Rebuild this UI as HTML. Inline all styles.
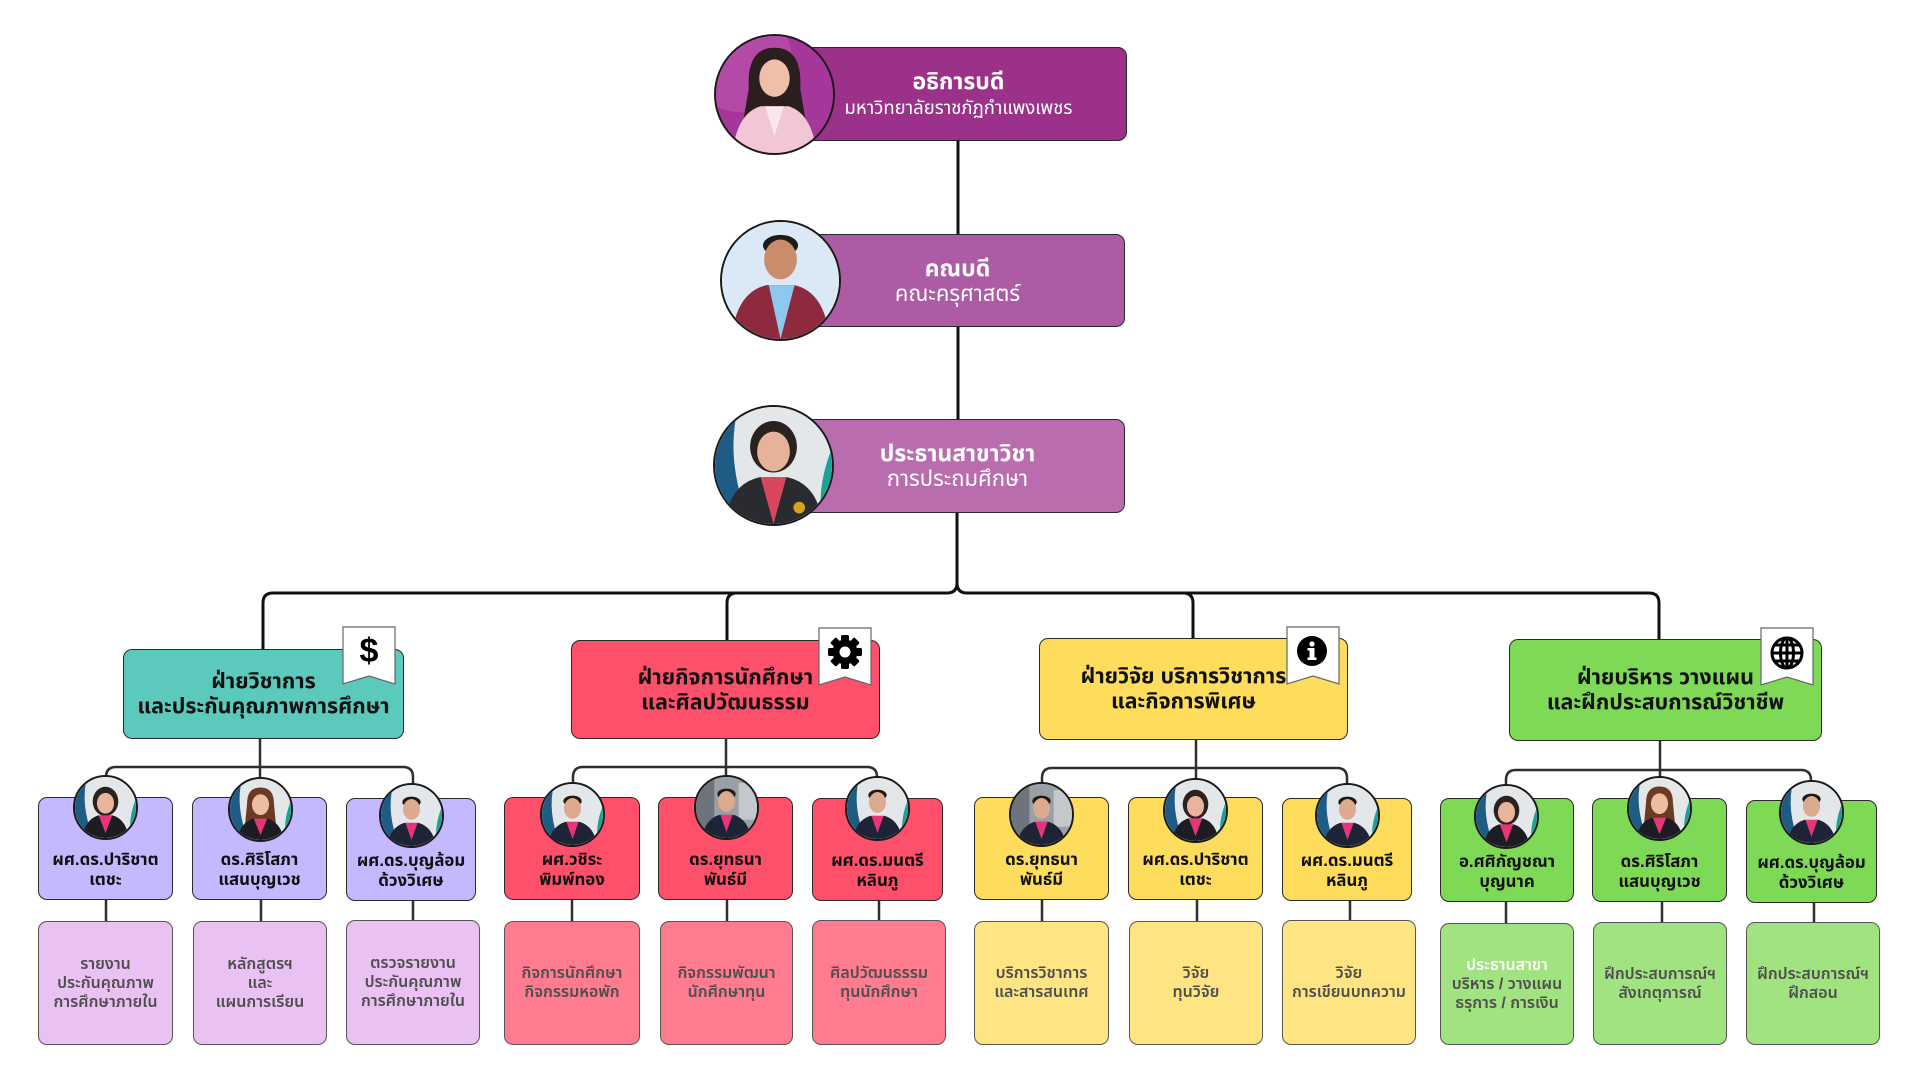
<!DOCTYPE html>
<html><head><meta charset="utf-8">
<style>
body{margin:0;width:1920px;height:1080px;background:#fff;position:relative;overflow:hidden;font-family:"Liberation Sans","Noto Sans Thai","Noto Sans Thai Looped","Garuda","Loma","Noto Sans CJK SC",sans-serif}
.b{position:absolute;box-sizing:border-box;border:1.5px solid #2a2a2a;border-radius:9px;display:flex;align-items:center;justify-content:center;text-align:center;z-index:1}
.top{color:#fff;line-height:25px;font-size:22px}
.top b{font-size:23px}
.hd{font-weight:700;font-size:21.5px;line-height:25px;color:#111}
.ch{align-items:flex-end;padding-bottom:9px;font-weight:700;font-size:16.8px;line-height:20px;color:#111}
.sb{font-weight:600;font-size:16px;line-height:19px;color:#4e4e4e;border-color:#555}
.av{position:absolute;box-sizing:border-box;border-radius:50%;overflow:hidden;border:2px solid #1a1a1a;z-index:2;background:#e4e7e9}
.av svg{display:block;width:100%;height:100%}
.bd{position:absolute;z-index:3}
svg.ln{position:absolute;left:0;top:0;z-index:0}
</style></head><body>

<svg width="0" height="0" style="position:absolute">
<defs>
<symbol id="bg" viewBox="0 0 100 100">
<rect width="100" height="100" fill="#e4e7e9"/>
<path d="M0 0 H20 Q8 45 30 100 H0Z" fill="#1f5c85"/>
<path d="M100 35 Q86 70 92 100 H100Z" fill="#1aa394"/>
</symbol>
<symbol id="bg2" viewBox="0 0 100 100">
<rect width="100" height="100" fill="#9aa0a6"/>
<rect x="0" y="0" width="30" height="100" fill="#6d747b"/>
<rect x="70" y="10" width="30" height="60" fill="#c4c8cc"/>
</symbol>
<symbol id="fem" viewBox="0 0 100 100">
<ellipse cx="50" cy="40" rx="21" ry="24" fill="#2b211e"/>
<ellipse cx="50" cy="43" rx="14" ry="17" fill="#e8b49c"/>
<path d="M12 100 Q16 70 38 63 H62 Q84 70 88 100Z" fill="#1c1c22"/>
<path d="M39 63 L50 92 L61 63Z" fill="#e8357a"/>
</symbol>
<symbol id="femL" viewBox="0 0 100 100">
<path d="M28 40 Q28 14 50 14 Q72 14 72 40 L76 82 L24 82Z" fill="#6b3a22"/>
<ellipse cx="50" cy="42" rx="14" ry="17" fill="#ecbca3"/>
<path d="M12 100 Q16 72 38 65 H62 Q84 72 88 100Z" fill="#1c1c22"/>
<path d="M39 65 L50 92 L61 65Z" fill="#e8357a"/>
</symbol>
<symbol id="mal" viewBox="0 0 100 100">
<ellipse cx="50" cy="28" rx="15" ry="9" fill="#1e1a18"/>
<ellipse cx="50" cy="40" rx="14" ry="17" fill="#dcaa8e"/>
<path d="M10 100 Q14 70 38 62 H62 Q86 70 90 100Z" fill="#1e2436"/>
<path d="M40 62 L50 90 L60 62Z" fill="#e8357a"/>
</symbol>
</defs>
</svg>

<!-- connectors -->
<svg class="ln" width="1920" height="1080">
<g fill="none" stroke="#111" stroke-width="3">
<path d="M958 141 V234"/>
<path d="M958 327 V419"/>
<path d="M957 512 V583 Q957 593 947 593 H273 Q263 593 263 603 V649"/>
<path d="M957 583 Q957 593 967 593 H1649 Q1659 593 1659 603 V639"/>
<path d="M727 640 V603 Q727 593 737 593"/>
<path d="M1193 638 V603 Q1193 593 1183 593"/>
</g>
<g fill="none" stroke="#2e2e2e" stroke-width="2.5">
<path d="M260 739 V777"/><path d="M106 790 V777 Q106 767 116 767 H403 Q413 767 413 777 V790"/>
<path d="M726 739 V777"/><path d="M573 790 V777 Q573 767 583 767 H867 Q877 767 877 777 V790"/>
<path d="M1196 740 V778"/><path d="M1042 790 V778 Q1042 768 1052 768 H1337 Q1347 768 1347 778 V790"/>
<path d="M1660 741 V780"/><path d="M1506 790 V780 Q1506 770 1516 770 H1801 Q1811 770 1811 780 V790"/>
<path d="M106 900 V922 M261 900 V922 M413 900 V922"/>
<path d="M572 900 V922 M727 900 V922 M879 900 V922"/>
<path d="M1042 900 V922 M1197 900 V922 M1350 900 V922"/>
<path d="M1506 902 V924 M1662 902 V924 M1814 902 V924"/>
</g>
</svg>

<!-- top boxes -->
<div class="b top" style="left:790px;top:47px;width:337px;height:94px;background:#9c3189"><div><b>อธิการบดี</b><br><span style="font-size:18.5px">มหาวิทยาลัยราชภัฏกำแพงเพชร</span></div></div>
<div class="b top" style="left:790px;top:234px;width:335px;height:93px;background:#ae5ba6"><div><b>คณบดี</b><br>คณะครุศาสตร์</div></div>
<div class="b top" style="left:790px;top:419px;width:335px;height:94px;background:#b96dae"><div><b>ประธานสาขาวิชา</b><br>การประถมศึกษา</div></div>

<!-- top avatars -->
<div class="av" style="left:714px;top:34px;width:121px;height:121px;background:#a2338f"><svg viewBox="0 0 100 100">
<rect width="100" height="100" fill="#a6379a"/><circle cx="20" cy="20" r="45" fill="#b24aa6"/>
<path d="M28 45 Q26 10 50 10 Q74 10 72 45 L78 80 L22 80Z" fill="#2a1e1e"/>
<ellipse cx="50" cy="36" rx="13" ry="16" fill="#eec0aa"/>
<path d="M14 100 Q18 66 38 60 H62 Q82 66 86 100Z" fill="#f3c6d6"/>
<path d="M42 60 L50 85 L58 60Z" fill="#f8e8ee"/>
</svg></div>
<div class="av" style="left:720px;top:220px;width:121px;height:121px"><svg viewBox="0 0 100 100">
<rect width="100" height="100" fill="#dbe9f6"/>
<ellipse cx="50" cy="20" rx="15" ry="9" fill="#1e1a18"/>
<ellipse cx="50" cy="32" rx="14" ry="17" fill="#c98d6c"/>
<path d="M8 100 Q12 60 38 54 H62 Q88 60 92 100Z" fill="#8d2a3e"/>
<path d="M40 54 L50 100 L62 54Z" fill="#8fc8ee"/>
</svg></div>
<div class="av" style="left:713px;top:405px;width:121px;height:121px"><svg viewBox="0 0 100 100">
<use href="#bg"/>
<ellipse cx="50" cy="34" rx="20" ry="22" fill="#2b211e"/>
<ellipse cx="50" cy="38" rx="14" ry="17" fill="#e6b39a"/>
<path d="M8 100 Q12 66 38 60 H62 Q88 66 92 100Z" fill="#2a2b30"/>
<path d="M39 60 L50 100 L61 60Z" fill="#d9475f"/>
<circle cx="72" cy="86" r="5" fill="#d8a21c"/>
</svg></div>

<!-- headers -->
<div class="b hd" style="left:123px;top:649px;width:281px;height:90px;background:#5bc9bc"><div>ฝ่ายวิชาการ<br>และประกันคุณภาพการศึกษา</div></div>
<div class="b hd" style="left:571px;top:640px;width:309px;height:99px;background:#fe4f6b"><div>ฝ่ายกิจการนักศึกษา<br>และศิลปวัฒนธรรม</div></div>
<div class="b hd" style="left:1039px;top:638px;width:309px;height:102px;background:#fedd5c;padding-right:20px"><div>ฝ่ายวิจัย บริการวิชาการ<br>และกิจการพิเศษ</div></div>
<div class="b hd" style="left:1509px;top:639px;width:313px;height:102px;background:#7ed957"><div>ฝ่ายบริหาร วางแผน<br>และฝึกประสบการณ์วิชาชีพ</div></div>

<!-- badges -->
<svg class="bd" style="left:342px;top:626px" width="54" height="60"><polygon points="1,1 53,1 53,58 27,50 1,58" fill="#fff" stroke="#666" stroke-width="1.2"/><text x="27" y="36" text-anchor="middle" font-family="Liberation Sans, sans-serif" font-size="34" font-weight="700" fill="#000">$</text></svg>
<svg class="bd" style="left:818px;top:627px" width="54" height="60"><polygon points="1,1 53,1 53,58 27,50 1,58" fill="#fff" stroke="#666" stroke-width="1.2"/>
<g transform="translate(27,25)" fill="#000"><rect x="-4" y="-17" width="8" height="34" rx="1.5"/><rect x="-4" y="-17" width="8" height="34" rx="1.5" transform="rotate(45)"/><rect x="-4" y="-17" width="8" height="34" rx="1.5" transform="rotate(90)"/><rect x="-4" y="-17" width="8" height="34" rx="1.5" transform="rotate(135)"/><circle r="12.5"/><circle r="5.5" fill="#fff"/></g></svg>
<svg class="bd" style="left:1286px;top:626px" width="54" height="60"><polygon points="1,1 53,1 53,58 27,50 1,58" fill="#fff" stroke="#666" stroke-width="1.2"/><circle cx="26" cy="25" r="15" fill="#000"/><circle cx="26" cy="18" r="2.6" fill="#fff"/><rect x="23.5" y="22" width="5" height="12" fill="#fff"/><rect x="21.5" y="22" width="4" height="2.5" fill="#fff"/><rect x="21.5" y="31.5" width="9" height="2.5" fill="#fff"/></svg>
<svg class="bd" style="left:1760px;top:627px" width="54" height="60"><polygon points="1,1 53,1 53,58 27,50 1,58" fill="#fff" stroke="#666" stroke-width="1.2"/>
<g fill="none" stroke="#000" stroke-width="3"><circle cx="27" cy="26" r="15"/><ellipse cx="27" cy="26" rx="6.5" ry="15"/><path d="M12 26 H42 M14.5 18 H39.5 M14.5 34 H39.5 M27 11 V41"/></g></svg>

<!-- child boxes -->
<div class="b ch" style="left:38px;top:797px;width:135px;height:103px;background:#c4b8fe"><div>ผศ.ดร.ปาริชาต<br>เตชะ</div></div>
<div class="b ch" style="left:192px;top:797px;width:135px;height:103px;background:#c4b8fe"><div>ดร.ศิริโสภา<br>แสนบุญเวช</div></div>
<div class="b ch" style="left:346px;top:798px;width:130px;height:103px;background:#c4b8fe"><div>ผศ.ดร.บุญล้อม<br>ด้วงวิเศษ</div></div>

<div class="b ch" style="left:504px;top:797px;width:136px;height:103px;background:#fe4f6b"><div>ผศ.วชิระ<br>พิมพ์ทอง</div></div>
<div class="b ch" style="left:658px;top:797px;width:135px;height:103px;background:#fe4f6b"><div>ดร.ยุทธนา<br>พันธ์มี</div></div>
<div class="b ch" style="left:812px;top:798px;width:131px;height:103px;background:#fe4f6b"><div>ผศ.ดร.มนตรี<br>หลินภู</div></div>

<div class="b ch" style="left:974px;top:797px;width:135px;height:103px;background:#fedd5c"><div>ดร.ยุทธนา<br>พันธ์มี</div></div>
<div class="b ch" style="left:1128px;top:797px;width:135px;height:103px;background:#fedd5c"><div>ผศ.ดร.ปาริชาต<br>เตชะ</div></div>
<div class="b ch" style="left:1282px;top:798px;width:130px;height:103px;background:#fedd5c"><div>ผศ.ดร.มนตรี<br>หลินภู</div></div>

<div class="b ch" style="left:1440px;top:798px;width:134px;height:104px;background:#7ed957"><div>อ.ศศิกัญชณา<br>บุญนาค</div></div>
<div class="b ch" style="left:1592px;top:798px;width:135px;height:104px;background:#7ed957"><div>ดร.ศิริโสภา<br>แสนบุญเวช</div></div>
<div class="b ch" style="left:1746px;top:800px;width:131px;height:103px;background:#7ed957"><div>ผศ.ดร.บุญล้อม<br>ด้วงวิเศษ</div></div>

<!-- sub boxes -->
<div class="b sb" style="left:38px;top:921px;width:135px;height:124px;background:#e9c1f3"><div>รายงาน<br>ประกันคุณภาพ<br>การศึกษาภายใน</div></div>
<div class="b sb" style="left:193px;top:921px;width:134px;height:124px;background:#e9c1f3"><div>หลักสูตรฯ<br>และ<br>แผนการเรียน</div></div>
<div class="b sb" style="left:346px;top:920px;width:134px;height:125px;background:#e9c1f3"><div>ตรวจรายงาน<br>ประกันคุณภาพ<br>การศึกษาภายใน</div></div>

<div class="b sb" style="left:504px;top:921px;width:136px;height:124px;background:#ff7b8f"><div>กิจการนักศึกษา<br>กิจกรรมหอพัก</div></div>
<div class="b sb" style="left:660px;top:921px;width:133px;height:124px;background:#ff7b8f"><div>กิจกรรมพัฒนา<br>นักศึกษาทุน</div></div>
<div class="b sb" style="left:812px;top:920px;width:134px;height:125px;background:#ff7b8f"><div>ศิลปวัฒนธรรม<br>ทุนนักศึกษา</div></div>

<div class="b sb" style="left:974px;top:921px;width:135px;height:124px;background:#ffe484"><div>บริการวิชาการ<br>และสารสนเทศ</div></div>
<div class="b sb" style="left:1129px;top:921px;width:134px;height:124px;background:#ffe484"><div>วิจัย<br>ทุนวิจัย</div></div>
<div class="b sb" style="left:1282px;top:920px;width:134px;height:125px;background:#ffe484"><div>วิจัย<br>การเขียนบทความ</div></div>

<div class="b sb" style="left:1440px;top:923px;width:134px;height:122px;background:#a1e380"><div><span style="color:#fff">ประธานสาขา</span><br>บริหาร / วางแผน<br>ธรุการ / การเงิน</div></div>
<div class="b sb" style="left:1593px;top:922px;width:134px;height:123px;background:#a1e380"><div>ฝึกประสบการณ์ฯ<br>สังเกตุการณ์</div></div>
<div class="b sb" style="left:1746px;top:922px;width:134px;height:123px;background:#a1e380"><div>ฝึกประสบการณ์ฯ<br>ฝึกสอน</div></div>

<!-- child avatars -->
<div class="av" style="left:73px;top:775px;width:65px;height:65px"><svg viewBox="0 0 100 100"><use href="#bg"/><use href="#fem"/></svg></div>
<div class="av" style="left:228px;top:777px;width:65px;height:65px"><svg viewBox="0 0 100 100"><use href="#bg"/><use href="#femL"/></svg></div>
<div class="av" style="left:379px;top:783px;width:65px;height:65px"><svg viewBox="0 0 100 100"><use href="#bg"/><use href="#mal"/></svg></div>

<div class="av" style="left:540px;top:782px;width:65px;height:65px"><svg viewBox="0 0 100 100"><use href="#bg"/><use href="#mal"/></svg></div>
<div class="av" style="left:694px;top:775px;width:65px;height:65px"><svg viewBox="0 0 100 100"><use href="#bg2"/><use href="#mal"/></svg></div>
<div class="av" style="left:845px;top:776px;width:65px;height:65px"><svg viewBox="0 0 100 100"><use href="#bg"/><use href="#mal"/></svg></div>

<div class="av" style="left:1009px;top:782px;width:65px;height:65px"><svg viewBox="0 0 100 100"><use href="#bg2"/><use href="#mal"/></svg></div>
<div class="av" style="left:1163px;top:778px;width:65px;height:65px"><svg viewBox="0 0 100 100"><use href="#bg"/><use href="#fem"/></svg></div>
<div class="av" style="left:1315px;top:783px;width:65px;height:65px"><svg viewBox="0 0 100 100"><use href="#bg"/><use href="#mal"/></svg></div>

<div class="av" style="left:1474px;top:784px;width:65px;height:65px"><svg viewBox="0 0 100 100"><use href="#bg"/><use href="#fem"/></svg></div>
<div class="av" style="left:1627px;top:776px;width:65px;height:65px"><svg viewBox="0 0 100 100"><use href="#bg"/><use href="#femL"/></svg></div>
<div class="av" style="left:1779px;top:780px;width:65px;height:65px"><svg viewBox="0 0 100 100"><use href="#bg"/><use href="#mal"/></svg></div>

</body></html>
